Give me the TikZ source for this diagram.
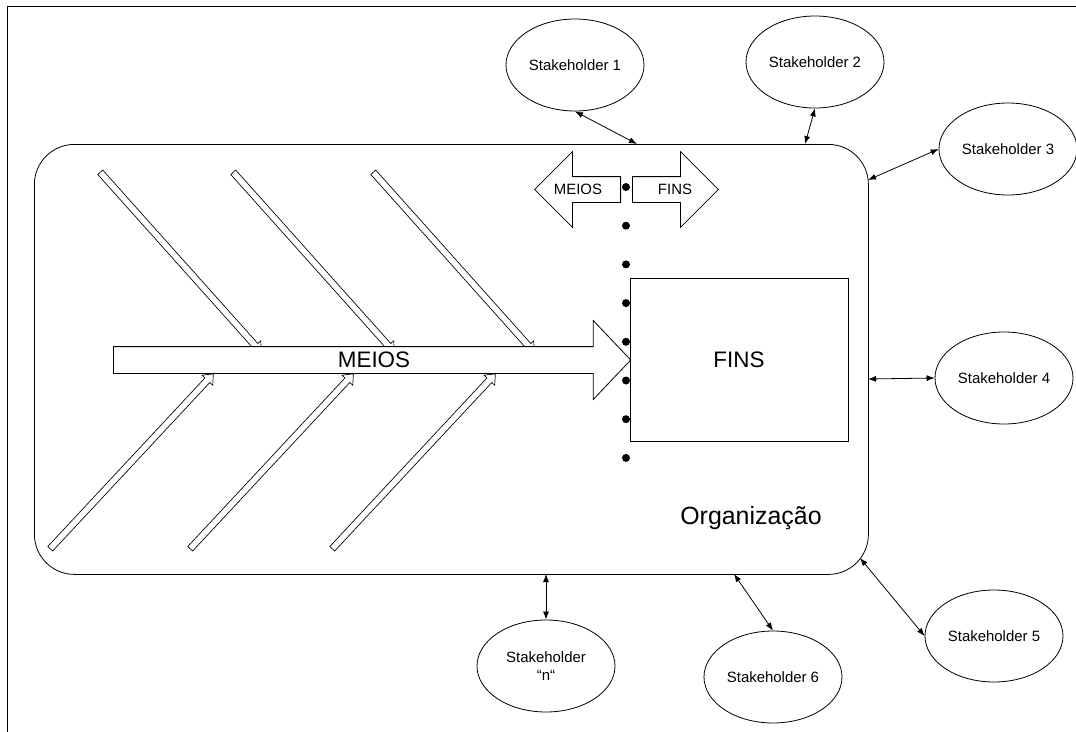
\documentclass[tikz,border=0pt]{standalone}
\usepackage{fontspec}
\setmainfont{Liberation Sans}
\usepackage{tikz}
\usetikzlibrary{positioning, shapes.geometric, shapes.arrows, arrows.meta}
\usepackage{xcolor}

\tikzset{
  stake/.style={ellipse, draw, minimum width=103.5pt, minimum height=69pt, inner sep=0pt, align=center, font=\fontsize{11.2}{13.5}\selectfont},
  link/.style={{Latex[length=6pt,width=4.5pt]}-{Latex[length=6pt,width=4.5pt]}},
  bone/.style={single arrow, draw, fill=white, line width=0.5pt, inner xsep=0pt, inner ysep=2.25pt, single arrow head extend=3pt, single arrow tip angle=80, anchor=tail},
  bigarrow/.style={single arrow, draw, fill=white, inner xsep=0pt, inner ysep=9.75pt, single arrow head extend=19.5pt, single arrow tip angle=93, minimum height=388pt, anchor=tail},
  smallarrow/.style={single arrow, draw, fill=white, inner xsep=0pt, inner ysep=9.375pt, single arrow head extend=18.75pt, single arrow tip angle=90, minimum height=64.5pt, anchor=tail},
}

\begin{document}
\begin{tikzpicture}[x=0.75pt, y=-0.75pt, line width=0.6pt]
  \useasboundingbox (0,0) rectangle (1076,732);
  % moldura
  \draw (7,732) -- (7,6) -- (1076,6);
  % organizacao
  \node[draw, rounded corners=30pt, minimum width=625.5pt, minimum height=322.5pt, anchor=north west] (org) at (34,144) {};
  \node[font=\fontsize{18.7}{22}\selectfont] (orglabel) at (751,518) {Organização};
  % espinhas
  \foreach \t in {100,233,373}
    \node[bone, minimum height=181.1pt, rotate=-48.2] at (\t,172) {};
  \foreach \t in {50,190,332}
    \node[bone, minimum height=179.4pt, rotate=47] at (\t,549) {};
  % seta principal
  \node[bigarrow] (meios) at (113,360) {};
  \node[font=\fontsize{16.8}{20}\selectfont] (meioslabel) at (374,360) {MEIOS};
  \node[draw, minimum width=163.5pt, minimum height=122.25pt, font=\fontsize{16.8}{20}\selectfont] (fins) at (739,359.5) {FINS};
  % meios / fins
  \node[smallarrow, rotate=180] (meiosl) at (621,189.5) {};
  \node[font=\fontsize{11.2}{13.5}\selectfont] at (578,189.5) {MEIOS};
  \node[smallarrow] (finsr) at (632,189.5) {};
  \node[font=\fontsize{11.2}{13.5}\selectfont] at (675,189.5) {FINS};
  \foreach \i [evaluate=\i as \yd using 187+\i*38.7] in {0,...,7}
    \fill (626,\yd) circle (3pt);
  % stakeholders
  \node[stake] (s1) at (575,65) {Stakeholder 1};
  \node[stake] (s2) at (815,62) {Stakeholder 2};
  \node[stake] (s3) at (1008,149) {Stakeholder 3};
  \node[stake] (s4) at (1004,378) {Stakeholder 4};
  \node[stake] (s5) at (994,636) {Stakeholder 5};
  \node[stake] (s6) at (773,677) {Stakeholder 6};
  \node[stake] (sn) at (546,666) {Stakeholder\\“n“};
  \coordinate (o1) at (637,144);
  \coordinate (o2) at (805,144);
  \coordinate (o3) at (868,180);
  \coordinate (o4) at (868,379);
  \coordinate (o5) at (860,558);
  \coordinate (o6) at (734,574);
  \coordinate (on) at (546,574);
  \draw[link] (s1.south) -- (o1);
  \draw[link] (s2.south) -- (o2);
  \draw[link] (s3.west) -- (o3);
  \draw[link] (s4.west) -- (o4);
  \draw[link] (s5.west) -- (o5);
  \draw[link] (s6.north) -- (o6);
  \draw[link] (sn.north) -- (on);
\end{tikzpicture}
\end{document}
